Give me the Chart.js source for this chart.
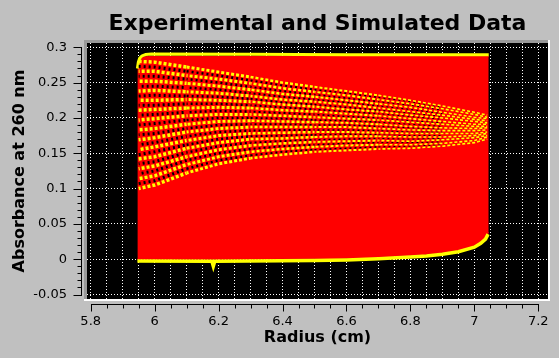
<!DOCTYPE html>
<html><head><meta charset="utf-8">
<script src="https://cdn.jsdelivr.net/npm/chart.js@4/dist/chart.umd.min.js"></script>
<style>html,body{margin:0;padding:0;background:#c0c0c0;}canvas{display:block;}</style>
</head><body>
<canvas id="c" width="559" height="358"></canvas>
<script>
// ---- tick labels ----
const xTickValues = [5.8,5.85,5.9,5.95,6,6.05,6.1,6.15,6.2,6.25,6.3,6.35,6.4,6.45,6.5,6.55,6.6,6.65,6.7,6.75,6.8,6.85,6.9,6.95,7,7.05,7.1,7.15,7.2];
const xMajorValues = [5.8,6,6.2,6.4,6.6,6.8,7,7.2];
const xMajorLabels = ['5.8','6','6.2','6.4','6.6','6.8','7','7.2'];
const yTickValues = [-0.05,0,0.05,0.1,0.15,0.2,0.25,0.3];
const yTickLabels = ['-0.05','0','0.05','0.1','0.15','0.2','0.25','0.3'];

// ---- envelope of all scans (red) ----
const topRadius = [5.946,5.95,5.955,5.965,5.98,6.5,7.045];
const topAbs    = [0.272,0.280,0.2838,0.2862,0.287,0.287,0.2868];
const bottomRadius = [5.946,6.2,6.5,6.6,6.7,6.8,6.85,6.9,6.95,7.0,7.02,7.035,7.045];
const bottomAbs    = [0.0,0.0,0.0005,0.0015,0.003,0.0055,0.007,0.0095,0.013,0.0195,0.025,0.031,0.038];

// ---- simulated edges (yellow) ----
const yTopRadius = [5.946,5.949,5.953,5.96,5.972,5.99,6.3,6.6,7.045];
const yTopAbs    = [0.270,0.279,0.2845,0.2878,0.2898,0.2905,0.2900,0.2894,0.2893];
const yBotRadius = [5.946,6.179,6.1835,6.188,6.5,6.6,6.7,6.8,6.85,6.9,6.95,7.0,7.02,7.035,7.043];
const yBotAbs    = [-0.0025,-0.003,-0.010,-0.003,-0.002,-0.001,0.0005,0.003,0.0045,0.007,0.0105,0.017,0.0225,0.0285,0.0355];

// ---- boundary region scans ----
const scanRadii = [5.95,6.0,6.1,6.2,6.3,6.4,6.5,6.6,6.7,6.8,6.9,7.0,7.04];
const yellowScans = [
 [0.280,0.279,0.272,0.265,0.258,0.250,0.244,0.238,0.232,0.225,0.217,0.208,0.204],
 [0.266,0.266,0.260,0.255,0.249,0.242,0.237,0.232,0.226,0.220,0.213,0.205,0.201],
 [0.252,0.252,0.249,0.245,0.240,0.234,0.230,0.225,0.220,0.215,0.208,0.201,0.199],
 [0.238,0.239,0.237,0.235,0.231,0.226,0.223,0.219,0.214,0.209,0.204,0.198,0.196],
 [0.225,0.225,0.226,0.225,0.223,0.219,0.216,0.212,0.209,0.204,0.200,0.195,0.193],
 [0.211,0.212,0.214,0.215,0.214,0.211,0.209,0.206,0.203,0.199,0.195,0.191,0.191],
 [0.197,0.199,0.203,0.205,0.205,0.203,0.201,0.199,0.197,0.194,0.191,0.188,0.188],
 [0.183,0.185,0.191,0.195,0.196,0.195,0.194,0.193,0.191,0.188,0.186,0.185,0.186],
 [0.169,0.172,0.180,0.185,0.187,0.187,0.187,0.187,0.185,0.183,0.182,0.182,0.183],
 [0.155,0.159,0.168,0.175,0.178,0.179,0.180,0.180,0.179,0.178,0.178,0.178,0.180],
 [0.142,0.145,0.157,0.165,0.170,0.171,0.173,0.174,0.174,0.173,0.173,0.175,0.178],
 [0.128,0.132,0.145,0.155,0.161,0.164,0.166,0.167,0.168,0.167,0.169,0.172,0.175],
 [0.114,0.118,0.134,0.145,0.152,0.156,0.159,0.161,0.162,0.162,0.164,0.168,0.173],
 [0.100,0.105,0.122,0.135,0.143,0.148,0.152,0.154,0.156,0.157,0.160,0.165,0.170]
];
const darkRadii = [5.95,6.0,6.1,6.2,6.3,6.4,6.5,6.6,6.7,6.8,6.9];
const darkScans = [
 [0.273,0.272,0.266,0.260,0.253,0.246,0.240,0.235,0.229,0.223,0.215],
 [0.259,0.259,0.255,0.250,0.244,0.238,0.233,0.228,0.223,0.218,0.211],
 [0.245,0.245,0.243,0.240,0.235,0.230,0.226,0.222,0.217,0.212,0.206],
 [0.231,0.232,0.231,0.230,0.227,0.222,0.219,0.215,0.211,0.207,0.202],
 [0.218,0.218,0.220,0.220,0.218,0.215,0.212,0.209,0.206,0.202,0.198],
 [0.204,0.205,0.208,0.210,0.209,0.207,0.205,0.202,0.200,0.196,0.193],
 [0.190,0.192,0.197,0.200,0.200,0.199,0.197,0.196,0.194,0.191,0.188],
 [0.176,0.178,0.185,0.190,0.191,0.191,0.190,0.190,0.188,0.186,0.184],
 [0.162,0.165,0.174,0.180,0.182,0.183,0.183,0.183,0.182,0.180,0.180],
 [0.148,0.152,0.162,0.170,0.174,0.175,0.176,0.177,0.176,0.175,0.175],
 [0.135,0.138,0.151,0.160,0.165,0.167,0.169,0.170,0.171,0.170,0.171],
 [0.121,0.125,0.140,0.150,0.156,0.160,0.162,0.164,0.165,0.165,0.166],
 [0.107,0.111,0.128,0.140,0.147,0.152,0.155,0.157,0.159,0.160,0.162]
];

function pts(xs, ys){ return xs.map((x,i)=>({x:x, y:ys[i]})); }
const base = {pointRadius:0, pointHoverRadius:0, tension:0, fill:false};
const yellowWidth = c => { const r = c.p0.parsed.x; return r < 6.1 ? 3.5 : r < 6.3 ? 3 : r < 6.5 ? 2.5 : r < 6.7 ? 2 : 1.6; };
const darkWidth = c => { const r = c.p0.parsed.x; return r < 6.1 ? 3 : r < 6.3 ? 2.5 : r < 6.5 ? 2 : r < 6.7 ? 1.5 : 1; };
const datasets = [
  Object.assign({}, base, {data:pts(topRadius,topAbs), borderColor:'#ff0000', borderWidth:1, backgroundColor:'#ff0000', fill:'+1', order:100}),
  Object.assign({}, base, {data:pts(bottomRadius,bottomAbs), borderColor:'#ff0000', borderWidth:1, order:99}),
  Object.assign({}, base, {data:pts(yTopRadius,yTopAbs), borderColor:'#ffff00', borderWidth:3, order:50}),
  Object.assign({}, base, {data:pts(yBotRadius,yBotAbs), borderColor:'#ffff00', borderWidth:3.5, order:50})
];
darkScans.forEach((s,i) => datasets.push(Object.assign({}, base, {data:pts(darkRadii,s), borderColor:'#000000', borderWidth:2, borderDash:[2,3], borderDashOffset:i%3, segment:{borderWidth:darkWidth}, order:30})));
yellowScans.forEach((s,i) => datasets.push(Object.assign({}, base, {data:pts(scanRadii,s), borderColor:'#ffff00', borderWidth:2, borderDash:[3,2], borderDashOffset:(i*2)%5, segment:{borderWidth:yellowWidth}, order:20})));

const FONT = 'DejaVu Sans';
const qwtPlugin = {
  id:'qwt',
  beforeDraw(chart){
    const {ctx, chartArea:a} = chart;
    ctx.save();
    ctx.fillStyle='#c0c0c0'; ctx.fillRect(0,0,chart.width,chart.height);
    ctx.fillStyle='#9a9a9a';
    ctx.fillRect(a.left-3, a.top-3, a.right-a.left+3, 3);
    ctx.fillRect(a.left-3, a.top-3, 3, a.bottom-a.top+3);
    ctx.fillStyle='#ffffff';
    ctx.fillRect(a.left-3, a.bottom, a.right-a.left+5, 2);
    ctx.fillRect(a.right, a.top-3, 2, a.bottom-a.top+5);
    ctx.fillStyle='#000000';
    ctx.fillRect(a.left, a.top, a.right-a.left, a.bottom-a.top);
    ctx.restore();
  },
  afterDraw(chart){
    const {ctx, chartArea:a, scales} = chart;
    const xs = scales.x, ys = scales.y;
    ctx.save();
    ctx.strokeStyle='#000'; ctx.lineWidth=1;
    ctx.beginPath();
    const bx = a.left - 5.5;
    const yTop = Math.round(ys.getPixelForValue(0.3)), yBot = Math.round(ys.getPixelForValue(-0.05));
    ctx.moveTo(bx, yTop); ctx.lineTo(bx, yBot+1);
    for (let k=-5;k<=30;k++){
      const p = Math.round(ys.getPixelForValue(k/100))+0.5;
      const len = (k%5===0)?8:4;
      ctx.moveTo(bx-len, p); ctx.lineTo(bx, p);
    }
    const by = a.bottom + 5.5;
    const xL = Math.round(xs.getPixelForValue(5.8)), xR = Math.round(xs.getPixelForValue(7.2));
    ctx.moveTo(xL, by); ctx.lineTo(xR+1, by);
    for (let k=116;k<=144;k++){
      const p = Math.round(xs.getPixelForValue(k/20))+0.5;
      const len = (k%4===0)?7:4;
      ctx.moveTo(p, by); ctx.lineTo(p, by+len);
    }
    ctx.stroke();
    ctx.restore();
  }
};

Chart.defaults.font.family = FONT;
Chart.defaults.color = '#000000';
new Chart(document.getElementById('c'), {
  type:'line',
  data:{datasets},
  options:{
    responsive:false, animation:false, events:[],
    layout:{padding:{left:0,right:11,top:0,bottom:0}},
    plugins:{
      legend:{display:false}, tooltip:{enabled:false},
      title:{display:true, text:'Experimental and Simulated Data', fullSize:false, color:'#000',
        font:{family:FONT, size:22, weight:'bold', lineHeight:1.2}, padding:{top:10.6,bottom:6}}
    },
    scales:{
      x:{type:'linear', min:5.7884, max:7.2304,
        afterBuildTicks(s){ s.ticks = xTickValues.map(v=>({value:v})); },
        afterFit(s){ s.height = 59; },
        ticks:{autoSkip:false, maxRotation:0, padding:0, font:{size:13},
          callback(v){ const i = xMajorValues.findIndex(m=>Math.abs(m-v)<1e-6); return i>=0?xMajorLabels[i]:''; }},
        grid:{color:'#ffffff', lineWidth:1, drawTicks:true, tickLength:15, tickColor:'rgba(0,0,0,0)'},
        border:{display:false, dash:[1,2]},
        title:{display:true, text:'Radius (cm)', font:{size:16, weight:'bold', lineHeight:1.2}, padding:{top:0,bottom:10.6}}
      },
      y:{type:'linear', min:-0.05637, max:0.30609,
        afterBuildTicks(s){ s.ticks = yTickValues.map(v=>({value:v})); },
        afterFit(s){ s.width = 87; },
        ticks:{autoSkip:false, padding:0, font:{size:13},
          callback(v){ const i = yTickValues.findIndex(m=>Math.abs(m-v)<1e-9); return i>=0?yTickLabels[i]:''; }},
        grid:{color:'#ffffff', lineWidth:1, drawTicks:true, tickLength:20, tickColor:'rgba(0,0,0,0)'},
        border:{display:false, dash:[1,2]},
        title:{display:true, text:'Absorbance at 260 nm', font:{size:16, weight:'bold', lineHeight:1.2}, padding:{top:10.4,bottom:0}}
      }
    }
  },
  plugins:[qwtPlugin]
});
</script></body></html>
